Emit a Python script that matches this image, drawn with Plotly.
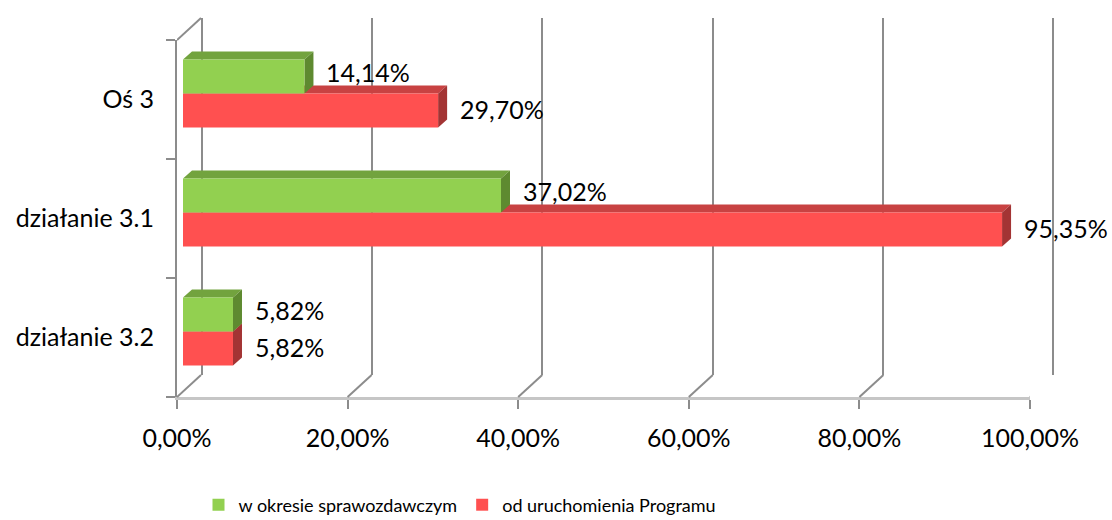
import plotly.graph_objects as go

# --- data -------------------------------------------------------------
categories = ["Oś 3", "działanie 3.1", "działanie 3.2"]
okres = [14.14, 37.02, 5.82]          # w okresie sprawozdawczym
od_startu = [29.70, 95.35, 5.82]      # od uruchomienia Programu
series_names = ["w okresie sprawozdawczym", "od uruchomienia Programu"]
x_ticks = [0, 20, 40, 60, 80, 100]
x_tick_labels = ["0,00%", "20,00%", "40,00%", "60,00%", "80,00%", "100,00%"]

# --- colours ----------------------------------------------------------
GREEN, GREEN_TOP, GREEN_SIDE = "#92D050", "#72A33E", "#5E8A30"
RED, RED_TOP, RED_SIDE = "#FF5050", "#C84242", "#A33434"
WALL = "#8C8C8C"
FLOOR = "#C6C6C6"
FONT = "Lato, Open Sans, sans-serif"

# --- page geometry (pixels) -------------------------------------------
W, H = 1112, 520
FRONT_L, FRONT_R, FRONT_T, FRONT_B = 177, 1030, 40, 397     # front frame
DEPTH_X, DEPTH_Y = 24, 22                                   # wall depth
BAR_L, BAR_R = 183, 1042                                     # bar plane
BAR_T, BAR_B = 34, 391
FACE_X, FACE_Y = 9, 8                                        # bar depth


def xdom(a, b):
    return [a / W, b / W]


def ydom(top, bottom):
    return [(H - bottom) / H, (H - top) / H]


n = len(categories)
ypos = [n - 1 - i for i in range(n)]        # first category on top
bar_w = 0.2857
unit_x = (BAR_R - BAR_L) / 100.0
unit_y = (BAR_B - BAR_T) / n
dx = FACE_X / unit_x
dy = FACE_Y / unit_y

fig = go.Figure()

# back wall (subplot 1): vertical grid lines
fig.add_trace(go.Scatter(x=[0], y=[0], mode="markers", marker=dict(opacity=0),
                         showlegend=False, hoverinfo="skip", xaxis="x", yaxis="y"))

# bars (subplot 2)
fig.add_trace(go.Bar(
    y=ypos, x=od_startu, orientation="h", name=series_names[1],
    marker=dict(color=RED, line=dict(width=0)), width=bar_w, offset=-bar_w,
    legendrank=2, xaxis="x2", yaxis="y2"))
fig.add_trace(go.Bar(
    y=ypos, x=okres, orientation="h", name=series_names[0],
    marker=dict(color=GREEN, line=dict(width=0)), width=bar_w, offset=0,
    legendrank=1, xaxis="x2", yaxis="y2"))

# front frame (subplot 3): category axis and percentage axis
fig.add_trace(go.Scatter(x=[0] * n, y=categories, mode="markers",
                         marker=dict(opacity=0), showlegend=False,
                         hoverinfo="skip", xaxis="x3", yaxis="y3"))

shapes = []


def poly(pts, color):
    path = "M " + " L ".join(f"{x},{y}" for x, y in pts) + " Z"
    return dict(type="path", path=path, xref="x2", yref="y2", layer="below",
                fillcolor=color, line=dict(width=0))


# top and side faces of every bar, built from the values
for yc, v_red, v_green in zip(ypos, od_startu, okres):
    lo, mid, hi = yc - bar_w, yc, yc + bar_w
    shapes.append(poly([(0, mid), (v_red, mid), (v_red + dx, mid + dy), (dx, mid + dy)], RED_TOP))
    shapes.append(poly([(v_red, lo), (v_red, mid), (v_red + dx, mid + dy), (v_red + dx, lo + dy)], RED_SIDE))
    shapes.append(poly([(0, hi), (v_green, hi), (v_green + dx, hi + dy), (dx, hi + dy)], GREEN_TOP))
    shapes.append(poly([(v_green, mid), (v_green, hi), (v_green + dx, hi + dy), (v_green + dx, mid + dy)], GREEN_SIDE))

# floor and wall edges joining the front frame to the back wall
front_unit = (FRONT_R - FRONT_L) / 100.0
depth_u = DEPTH_X / front_unit
floor_f = (H - FRONT_B) / H
floor_b = (H - (FRONT_B - DEPTH_Y)) / H
for t in x_ticks:
    shapes.append(dict(type="line", xref="x3", yref="paper", x0=t, y0=floor_f,
                       x1=t + depth_u, y1=floor_b, line=dict(color=WALL, width=2)))
shapes.append(dict(type="line", xref="x3", yref="paper", x0=0, y0=(H - FRONT_T) / H,
                   x1=depth_u, y1=(H - FRONT_T + DEPTH_Y) / H,
                   line=dict(color=WALL, width=2)))


def pct(v):
    return f"{v:.2f}".replace(".", ",") + "%"


label_font = dict(family=FONT, size=25, color="#000000")
annotations = []
for yc, v_red, v_green in zip(ypos, od_startu, okres):
    annotations.append(dict(x=v_green, y=yc + bar_w / 2, xref="x2", yref="y2",
                            text=pct(v_green), showarrow=False, xanchor="left",
                            xshift=FACE_X + 11, yshift=5, font=label_font))
    annotations.append(dict(x=v_red, y=yc - bar_w / 2, xref="x2", yref="y2",
                            text=pct(v_red), showarrow=False, xanchor="left",
                            xshift=FACE_X + 11, yshift=2, font=label_font))

hidden = dict(showgrid=False, zeroline=False, showticklabels=False,
              showline=False, ticks="", automargin=False)

fig.update_layout(
    width=W, height=H,
    margin=dict(l=0, r=0, t=0, b=0, autoexpand=False),
    paper_bgcolor="white", plot_bgcolor="rgba(0,0,0,0)",
    barmode="overlay",
    font=dict(family=FONT, size=25, color="#000000"),
    xaxis=dict(domain=xdom(FRONT_L + DEPTH_X, FRONT_R + DEPTH_X), range=[-0.15, 100.15],
               showgrid=True, gridcolor=WALL, gridwidth=2, tickmode="array",
               tickvals=x_ticks, zeroline=False, showticklabels=False,
               showline=False, ticks="", anchor="y", automargin=False),
    yaxis=dict(domain=ydom(FRONT_T - DEPTH_Y, FRONT_B - DEPTH_Y), range=[0, 1],
               anchor="x", **hidden),
    xaxis2=dict(domain=xdom(BAR_L, BAR_R), range=[0, 100], anchor="y2", **hidden),
    yaxis2=dict(domain=ydom(BAR_T, BAR_B), range=[-0.5, n - 0.5], anchor="x2", **hidden),
    xaxis3=dict(domain=xdom(FRONT_L, FRONT_R), range=[0, 100], anchor="y3",
                tickmode="array", tickvals=x_ticks, ticktext=x_tick_labels,
                showline=True, linecolor=FLOOR, linewidth=3,
                ticks="outside", ticklen=9, tickwidth=2, tickcolor=WALL,
                showgrid=False, zeroline=False, ticklabelstandoff=8,
                automargin=False, tickfont=label_font),
    yaxis3=dict(domain=ydom(FRONT_T, FRONT_B), type="category",
                categoryorder="array", categoryarray=categories[::-1],
                range=[-0.5, n - 0.5], anchor="x3",
                showline=True, linecolor=WALL, linewidth=2,
                ticks="outside", ticklen=9, tickwidth=2, tickcolor=WALL,
                tickson="boundaries", showgrid=False, zeroline=False,
                ticklabelstandoff=16, automargin=False, tickfont=label_font),
    shapes=shapes,
    annotations=annotations,
    legend=dict(orientation="h", x=460 / W, xanchor="center", y=(H - 505) / H,
                yanchor="middle", font=dict(family=FONT, size=18, color="#000000"),
                itemwidth=30, bgcolor="rgba(0,0,0,0)"),
    showlegend=True,
)

fig.write_html("out.html")
